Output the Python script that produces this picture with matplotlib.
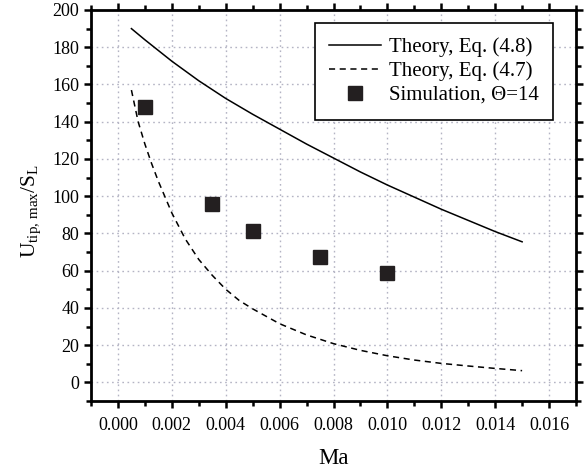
import matplotlib
matplotlib.use("Agg")
import matplotlib.pyplot as plt
from matplotlib.ticker import MultipleLocator, FormatStrFormatter

plt.rcParams['font.family'] = ['Liberation Serif', 'DejaVu Serif']
plt.rcParams['mathtext.fontset'] = 'custom'
plt.rcParams['mathtext.rm'] = 'Liberation Serif'
plt.rcParams['mathtext.it'] = 'Liberation Serif:italic'

# Theory, Eq. (4.8)
ma_eq48 = [0.0005, 0.001, 0.002, 0.003, 0.004, 0.005, 0.006, 0.007, 0.008,
           0.009, 0.010, 0.011, 0.012, 0.013, 0.014, 0.015]
u_eq48 = [190, 184, 172.5, 162, 152.5, 144, 136, 128, 120.5, 113, 106, 99.5,
          93, 87, 81, 75.5]

# Theory, Eq. (4.7)
ma_eq47 = [0.0005, 0.00075, 0.001, 0.00125, 0.0015, 0.00175, 0.002, 0.0025,
           0.003, 0.0035, 0.004, 0.0045, 0.005, 0.006, 0.007, 0.008, 0.009,
           0.010, 0.011, 0.012, 0.013, 0.014, 0.015]
u_eq47 = [157, 140, 128, 117.5, 108, 99.5, 91, 77, 66, 57.5, 50, 44, 39.5,
          31.5, 25.5, 20.8, 17.2, 14.3, 12, 10.2, 8.8, 7.5, 6.3]

# Simulation, Theta=14
ma_sim = [0.001, 0.0035, 0.005, 0.0075, 0.010]
u_sim = [148, 96, 81.5, 67.5, 58.5]

fig = plt.figure(figsize=(5.87, 4.70), dpi=100)
ax = fig.add_axes([91/587, 1-401/470, (576-91)/587, (401-10)/470])

ax.plot(ma_eq48, u_eq48, '-', color='black', lw=1.1, label='Theory, Eq. (4.8)')
ax.plot(ma_eq47, u_eq47, '--', color='black', lw=1.1, dashes=(4, 3),
        label='Theory, Eq. (4.7)')
ax.plot(ma_sim, u_sim, 's', color='#231f20', ms=10, mec='#231f20',
        label='Simulation, Θ=14')

ax.set_xlim(-0.001, 0.017)
ax.set_ylim(-10, 200)
ax.xaxis.set_major_locator(MultipleLocator(0.002))
ax.xaxis.set_minor_locator(MultipleLocator(0.001))
ax.yaxis.set_major_locator(MultipleLocator(20))
ax.yaxis.set_minor_locator(MultipleLocator(10))
ax.xaxis.set_major_formatter(FormatStrFormatter('%.3f'))

ax.grid(True, which='major', color='#b4b4c4', linestyle=(0, (1.2, 2.5)), lw=1.0)
ax.set_axisbelow(True)

for s in ax.spines.values():
    s.set_linewidth(2.0)
ax.tick_params(which='both', direction='out', top=True, right=True,
               labeltop=False, labelright=False, width=1.8, labelsize=13)
ax.tick_params(which='major', length=5)
ax.tick_params(which='minor', length=3.5)
ax.tick_params(axis='x', which='major', pad=6.5)

ax.set_xlabel('Ma', fontsize=16.5, labelpad=10)
ax.set_ylabel(r'U$_{\mathrm{tip,\,max}}$/S$_{\mathrm{L}}$', fontsize=15.5)
ax.yaxis.set_label_coords(-0.099, 0.486)

leg = ax.legend(loc='upper right', bbox_to_anchor=((553-91)/485, (401-23)/391),
                fontsize=15, frameon=True, fancybox=False, edgecolor='black',
                framealpha=1, handlelength=2.5, handletextpad=0.35,
                borderpad=0.7, labelspacing=0.2, borderaxespad=0)
leg.get_frame().set_linewidth(1.2)

fig.savefig('out.png', dpi=100)
